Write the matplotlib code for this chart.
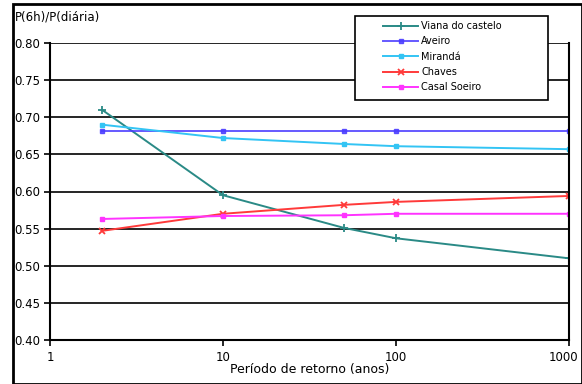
import matplotlib
matplotlib.use("Agg")
import matplotlib.pyplot as plt
from matplotlib.patches import Rectangle
from matplotlib.transforms import ScaledTranslation

periods = [2, 10, 50, 100, 1000]
viana = [0.710, 0.595, 0.551, 0.537, 0.510]
aveiro = [0.682, 0.682, 0.682, 0.682, 0.682]
miranda = [0.690, 0.672, 0.664, 0.661, 0.657]
chaves = [0.547, 0.570, 0.582, 0.586, 0.594]
casal = [0.563, 0.567, 0.568, 0.570, 0.570]

series_names = ["Viana do castelo", "Aveiro", "Mirandá", "Chaves", "Casal Soeiro"]
yticks = [0.40, 0.45, 0.50, 0.55, 0.60, 0.65, 0.70, 0.75, 0.80]
xticks = [1, 10, 100, 1000]

fig = plt.figure(figsize=(5.82, 3.84), dpi=100)
ax = fig.add_axes([50/582, 44/384, (569-50)/582, (340-43)/384])

ax.plot(periods, viana, color="#2a8a86", marker="+", markersize=6, mew=1.3, lw=1.4, label=series_names[0])
ax.plot(periods, aveiro, color="#4a3cff", marker="s", markersize=3.5, lw=1.4, alpha=0.85, label=series_names[1])
ax.plot(periods, miranda, color="#33c4f4", marker="s", markersize=3.5, lw=1.4, label=series_names[2])
ax.plot(periods, chaves, color="#ff3a3a", marker="x", markersize=4.5, mew=1.3, lw=1.4, label=series_names[3])
ax.plot(periods, casal, color="#ff33ff", marker="s", markersize=3.5, lw=1.4, label=series_names[4])

ax.set_xscale("log")
ax.set_xlim(1, 1000)
ax.set_ylim(0.40, 0.80)
ax.set_xticks(xticks)
ax.set_xticklabels([str(t) for t in xticks])
ax.minorticks_off()
ax.set_yticks(yticks)
ax.set_yticklabels([f"{t:.2f}" for t in yticks])
ax.yaxis.grid(True, color="black", lw=1.2)
ax.set_axisbelow(True)
for s in ["left", "right", "bottom"]:
    ax.spines[s].set_linewidth(1.5)
    ax.spines[s].set_color("black")
ax.spines["top"].set_visible(False)
ax.tick_params(axis="y", length=4, width=1.2, pad=3, labelsize=8.5)
ax.tick_params(axis="x", length=4, width=1.2, pad=4, labelsize=8.5)
ax.set_xlabel("Período de retorno (anos)", fontsize=9, labelpad=-1)
# nudge the last x tick label so it stays inside the figure
last = ax.get_xticklabels()[-1]
last.set_transform(last.get_transform() + ScaledTranslation(-6/100, 0, fig.dpi_scale_trans))

fig.text(15/582, 1-17/384, "P(6h)/P(diária)", fontsize=8.5, va="center", ha="left")

# legend frame
frame = Rectangle((355/582, 1-100/384), (548-355)/582, (100-16)/384,
                  transform=fig.transFigure, facecolor="white",
                  edgecolor="black", lw=1.2, zorder=4, clip_on=False)
ax.add_patch(frame)
leg = ax.legend(loc="upper left", bbox_to_anchor=(383/582, 1-21/384),
                bbox_transform=fig.transFigure, fontsize=7, frameon=False,
                handlelength=3.6, borderpad=0.0, labelspacing=0.55,
                borderaxespad=0, handletextpad=0.35)
leg.set_zorder(6)

fig.patches.append(Rectangle((13/582, 0.0), 1-13/582, 1-4/384, transform=fig.transFigure,
                             fill=False, edgecolor="black", lw=2))

fig.savefig("out.png", dpi=100)
